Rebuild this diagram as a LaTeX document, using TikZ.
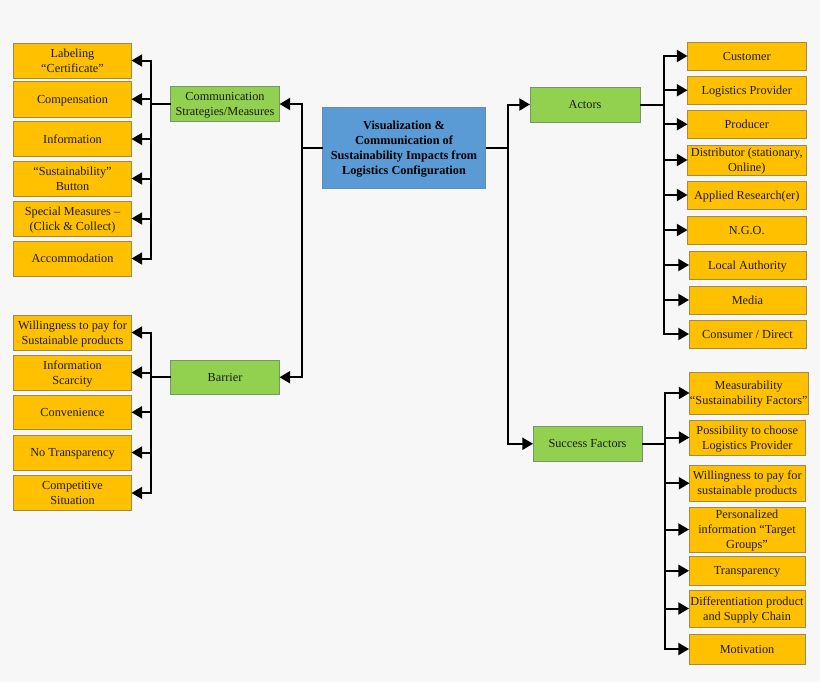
\documentclass[tikz,border=0pt]{standalone}
\usepackage{fontspec}
\setmainfont{Liberation Serif}
\usetikzlibrary{arrows.meta}
\definecolor{bgc}{HTML}{F7F7F7}
\definecolor{orangef}{HTML}{FFC000}
\definecolor{oranged}{HTML}{A08C48}
\definecolor{greenf}{HTML}{92D050}
\definecolor{greend}{HTML}{76966A}
\definecolor{bluef}{HTML}{5B9BD5}
\definecolor{blued}{HTML}{5F8DB8}
\definecolor{inkc}{HTML}{1C1C10}
\tikzset{
  x=0.75pt,y=-0.75pt,
  basebox/.style={rectangle,inner sep=0pt,outer sep=0pt,line width=0.7pt,text=inkc,
    font=\fontsize{9.2}{11.25}\selectfont},
  leafbox/.style={basebox,draw=oranged,fill=orangef},
  branchbox/.style={basebox,draw=greend,fill=greenf},
  rootbox/.style={basebox,draw=blued,fill=bluef,text=black,font=\fontsize{9.2}{11.25}\selectfont\bfseries},
  conn/.style={line width=1.5pt,black,-{Triangle[length=8pt,width=9pt]}},
  trunk/.style={line width=1.5pt,black}
}
% style, name, x1, y1, x2, y2, text
\newcommand{\pxbox}[7]{\node[#1,minimum width={(#5-#3)*0.75pt},minimum height={(#6-#4)*0.75pt}] (#2) at ({(#3+#5)/2},{(#4+#6)/2}) {\raisebox{-0.8pt}[\height][\depth]{\begin{tabular}{@{}c@{}}#7\end{tabular}}};}
\begin{document}
\begin{tikzpicture}
\fill[bgc] (0,0) rectangle (820,682);
\useasboundingbox (0,0) rectangle (820,682);

\pxbox{rootbox}{root}{322.5}{107.5}{485.5}{188.5}{Visualization \&\\Communication of\\Sustainability Impacts from\\Logistics Configuration}

\pxbox{branchbox}{comm}{170.5}{86.5}{279.5}{121.5}{Communication\\Strategies/Measures}
\pxbox{branchbox}{barrier}{170.5}{360}{279.5}{394.5}{Barrier}
\pxbox{branchbox}{actors}{530}{87}{640}{122}{Actors}
\pxbox{branchbox}{success}{533}{426}{642}{461.5}{Success Factors}

\pxbox{leafbox}{c1}{13.5}{43}{131.5}{78}{Labeling\\“Certificate”}
\pxbox{leafbox}{c2}{13.5}{81.5}{131.5}{117}{Compensation}
\pxbox{leafbox}{c3}{13.5}{121.5}{131.5}{156.5}{Information}
\pxbox{leafbox}{c4}{13.5}{161}{131.5}{196}{“Sustainability”\\Button}
\pxbox{leafbox}{c5}{13.5}{201}{131.5}{236}{Special Measures –\\(Click \& Collect)}
\pxbox{leafbox}{c6}{13.5}{241}{131.5}{276}{Accommodation}

\pxbox{leafbox}{b1}{13.5}{315}{131.5}{350}{Willingness to pay for\\Sustainable products}
\pxbox{leafbox}{b2}{13.5}{355}{131.5}{390}{Information\\Scarcity}
\pxbox{leafbox}{b3}{13.5}{395}{131.5}{429.5}{Convenience}
\pxbox{leafbox}{b4}{13.5}{435}{131.5}{470}{No Transparency}
\pxbox{leafbox}{b5}{13.5}{475.5}{131.5}{510.5}{Competitive\\Situation}

\pxbox{leafbox}{a1}{687.5}{42}{806}{70}{Customer}
\pxbox{leafbox}{a2}{687.5}{76}{806}{104.5}{Logistics Provider}
\pxbox{leafbox}{a3}{687.5}{110}{806}{138.5}{Producer}
\pxbox{leafbox}{a4}{687.5}{146}{806}{174}{Distributor (stationary,\\Online)}
\pxbox{leafbox}{a5}{687.5}{181}{806}{209}{Applied Research(er)}
\pxbox{leafbox}{a6}{687.5}{216}{806}{244}{N.G.O.}
\pxbox{leafbox}{a7}{689}{251}{806}{279}{Local Authority}
\pxbox{leafbox}{a8}{689}{286}{806}{314}{Media}
\pxbox{leafbox}{a9}{689}{320}{806}{348}{Consumer / Direct}

\pxbox{leafbox}{s1}{689.5}{372}{808}{414}{Measurability\\“Sustainability Factors”}
\pxbox{leafbox}{s2}{689.5}{420}{805}{455}{Possibility to choose\\Logistics Provider}
\pxbox{leafbox}{s3}{689.5}{465.5}{805}{501}{Willingness to pay for\\sustainable products}
\pxbox{leafbox}{s4}{689}{507}{805}{552}{Personalized\\information “Target\\Groups”}
\pxbox{leafbox}{s5}{689}{556.5}{805}{585}{Transparency}
\pxbox{leafbox}{s6}{689}{590}{805}{627}{Differentiation product\\and Supply Chain}
\pxbox{leafbox}{s7}{689}{634}{805}{664}{Motivation}

% junction points on the trunks
\coordinate (jleft) at (302,0 |- root.west);
\coordinate (jright) at (508,0 |- root.east);
\coordinate (jc) at (151,0 |- comm.west);
\coordinate (jb) at (151,0 |- barrier.west);
\coordinate (ja) at (663.5,0 |- actors.east);
\coordinate (js) at (665,0 |- success.east);

\draw[trunk] (root.west) -- (jleft);
\draw[trunk] (root.east) -- (jright);
\draw[conn] (jleft) |- (comm.east);
\draw[conn] (jleft) |- (barrier.east);
\draw[conn] (jright) |- (actors.west);
\draw[conn] (jright) |- (success.west);

\draw[trunk] (comm.west) -- (jc);
\draw[trunk] (barrier.west) -- (jb);
\draw[trunk] (actors.east) -- (ja);
\draw[trunk] (success.east) -- (js);

\foreach \t in {c1,c2,c3,c4,c5,c6} \draw[conn] (jc) |- (\t.east);
\foreach \t in {b1,b2,b3,b4,b5} \draw[conn] (jb) |- (\t.east);
\foreach \t in {a1,a2,a3,a4,a5,a6,a7,a8,a9} \draw[conn] (ja) |- (\t.west);
\foreach \t in {s1,s2,s3,s4,s5,s6,s7} \draw[conn] (js) |- (\t.west);
\end{tikzpicture}
\end{document}
